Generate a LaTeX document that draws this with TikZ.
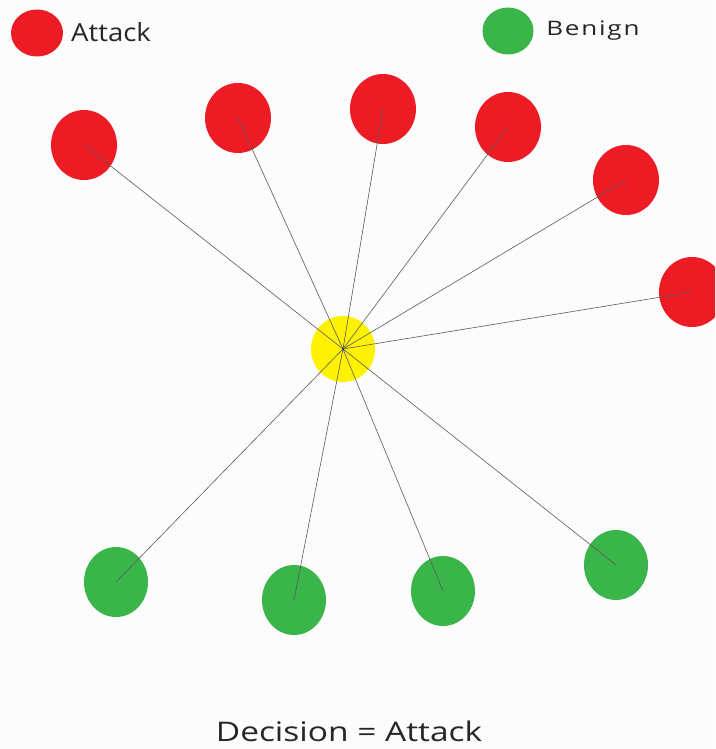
\documentclass[tikz,border=0pt]{standalone}
\usepackage{fontspec}
\setmainfont{Open Sans}
\usetikzlibrary{shapes.geometric}
\definecolor{bg}{HTML}{FCFCFC}
\definecolor{attackred}{HTML}{ED1C24}
\definecolor{benigngreen}{HTML}{39B54A}
\definecolor{centeryellow}{HTML}{FFF200}
\definecolor{linkgray}{HTML}{5A5A5A}
\tikzset{
  attacknode/.style={ellipse, fill=attackred, draw=none, inner sep=0pt, minimum width=66pt, minimum height=70pt},
  benignnode/.style={ellipse, fill=benigngreen, draw=none, inner sep=0pt, minimum width=64pt, minimum height=70pt},
  decisionnode/.style={ellipse, fill=centeryellow, draw=none, inner sep=0pt, minimum width=64pt, minimum height=66pt},
  link/.style={draw=linkgray, line width=0.6pt},
  lbl/.style={inner sep=0pt, text=black!85}
}
\begin{document}
\begin{tikzpicture}[x=1pt, y=-1pt]
\fill[bg] (0,0) rectangle (715,749);
\useasboundingbox (0,0) rectangle (715,749);
\clip (0,0) rectangle (715,749);
% legend
\node[ellipse, fill=attackred, inner sep=0pt, minimum width=52pt, minimum height=47pt] (legA) at (37,33) {};
\node[lbl, anchor=west, xscale=1.1, font=\fontsize{25}{25}\selectfont] (legAtxt) at (71,32) {Attack};
\node[ellipse, fill=benigngreen, inner sep=0pt, minimum width=51pt, minimum height=47pt] (legB) at (508,31) {};
\node[lbl, anchor=west, xscale=1.3, font=\fontsize{20}{20}\selectfont\addfontfeature{LetterSpace=7}] (legBtxt) at (546,30.5) {Benign};
% nodes
\node[decisionnode] (y) at (343,349) {};
\node[attacknode] (r1) at (84,145) {};
\node[attacknode] (r2) at (238,118) {};
\node[attacknode] (r3) at (383,109) {};
\node[attacknode] (r4) at (508,127) {};
\node[attacknode] (r5) at (626,180) {};
\node[attacknode] (r6) at (692,292) {};
\node[benignnode] (g1) at (116,582) {};
\node[benignnode] (g2) at (294,600) {};
\node[benignnode] (g3) at (443,591) {};
\node[benignnode] (g4) at (616,565) {};
% links
\foreach \n in {r1,r2,r3,r4,r5,r6,g1,g2,g3,g4}
  \draw[link] (y.center) -- (\n.center);
\fill[black!80] (y.center) circle (1.2pt);
% decision text
\node[lbl, xscale=1.24, font=\fontsize{27}{27}\selectfont] (dec) at (349,731) {Decision = Attack};
\end{tikzpicture}
\end{document}
